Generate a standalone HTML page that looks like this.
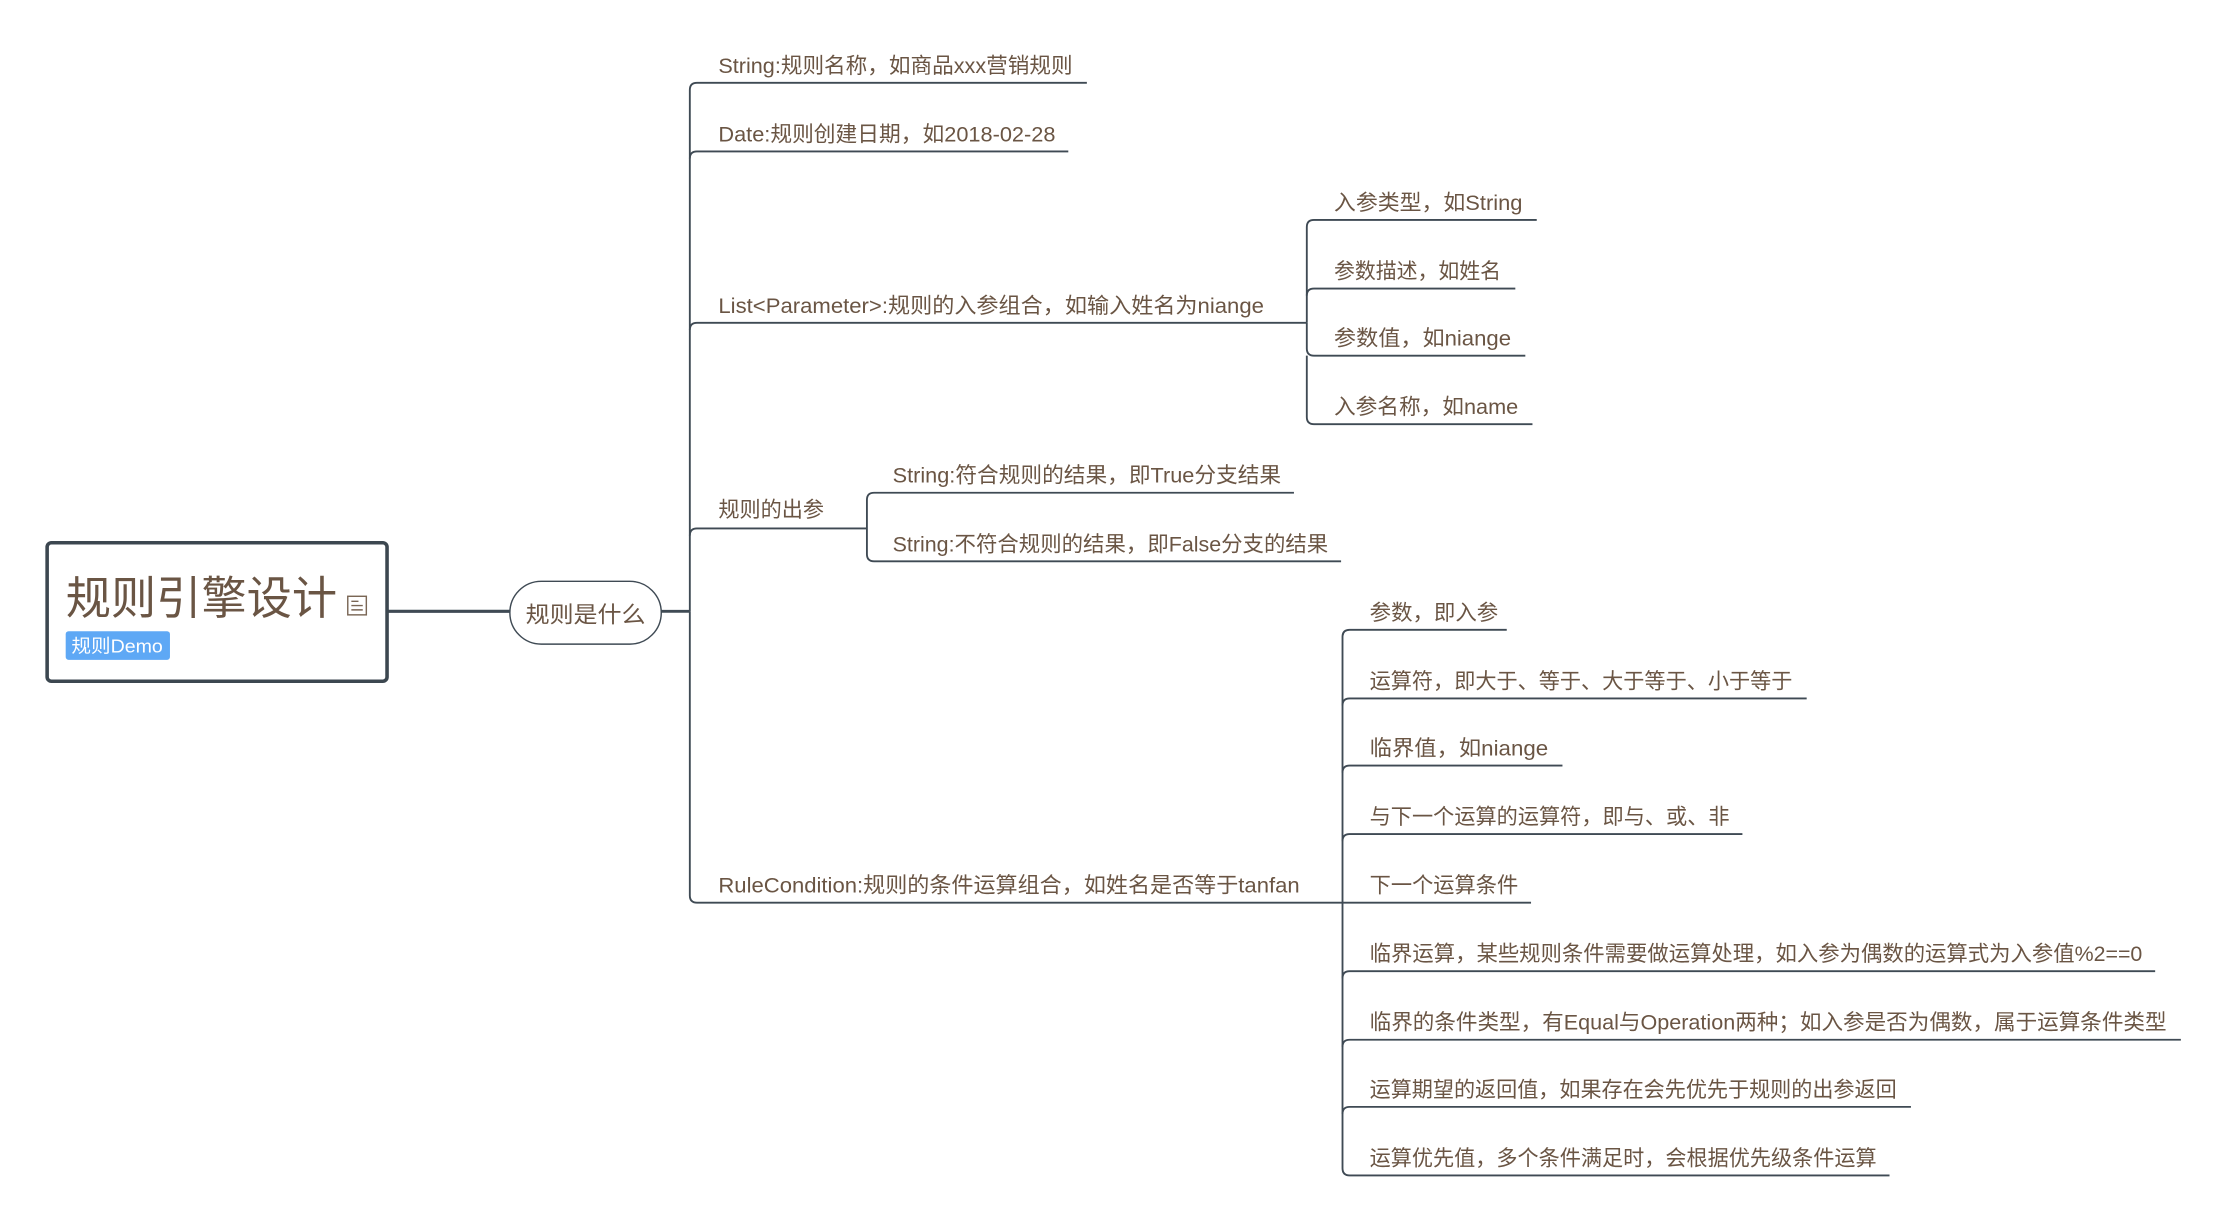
<!DOCTYPE html>
<html><head><meta charset="utf-8"><style>
html,body{margin:0;padding:0;background:#fff;}
svg{display:block;}
text{font-family:"Liberation Sans","Noto Sans CJK SC",sans-serif;fill:#6a5544;}
.t{font-size:15px;}
</style></head><body>
<svg width="2228" height="1224" viewBox="0 0 1560 857" xmlns="http://www.w3.org/2000/svg">
<g fill="none" stroke="#3f4a54" stroke-width="1.3">
<!-- root connectors -->
<path d="M271,428 H357" stroke-width="2.2"/>
<path d="M463,428 H483" stroke-width="2"/>
<!-- trunk -->
<path d="M483,428 V63 Q483,58 488,58 H761"/>
<path d="M483,111 Q483,106 488,106 H748"/>
<path d="M483,231 Q483,226 488,226 H915"/>
<path d="M483,375 Q483,370 488,370 H607"/>
<path d="M483,428 V627 Q483,632 488,632 H940"/>
<!-- List sub -->
<path d="M915,226 V159 Q915,154 920,154 H1076"/>
<path d="M915,207 Q915,202 920,202 H1061"/>
<path d="M915,226 V244 Q915,249 920,249 H1068"/>
<path d="M915,249 V292 Q915,297 920,297 H1073"/>
<!-- out sub -->
<path d="M607,370 V350 Q607,345 612,345 H906"/>
<path d="M607,370 V388 Q607,393 612,393 H939"/>
<!-- cond sub -->
<path d="M940,632 V446 Q940,441 945,441 H1055"/>
<path d="M940,494 Q940,489 945,489 H1265"/>
<path d="M940,541 Q940,536 945,536 H1094"/>
<path d="M940,589 Q940,584 945,584 H1220"/>
<path d="M940,632 H1072"/>
<path d="M940,632 V818 Q940,823 945,823 H1323"/>
<path d="M940,685 Q940,680 945,680 H1509"/>
<path d="M940,733 Q940,728 945,728 H1527"/>
<path d="M940,780 Q940,775 945,775 H1338"/>
</g>
<!-- root -->
<rect x="33" y="380" width="238" height="97" rx="3" fill="#fff" stroke="#3c4750" stroke-width="2.5"/>
<text x="46" y="430" style="font-size:32px" textLength="190" lengthAdjust="spacingAndGlyphs">规则引擎设计</text>
<g fill="none" stroke="#7a6655" stroke-width="1"><rect x="243.5" y="417.5" width="13" height="13"/><path d="M246,421H251M246,424H254M246,427H254"/></g>
<rect x="46" y="442" width="73" height="20" rx="2" fill="#5ea8f5"/>
<text x="50" y="457" style="font-size:13px;fill:#fff" textLength="64" lengthAdjust="spacingAndGlyphs">规则Demo</text>
<rect x="357" y="407" width="106" height="44" rx="22" fill="#fff" stroke="#3f4a54" stroke-width="1"/>
<text x="368" y="436" style="font-size:16px" textLength="84" lengthAdjust="spacingAndGlyphs">规则是什么</text>
<g class="t">
<text x="503" y="51" textLength="248" lengthAdjust="spacingAndGlyphs">String:规则名称，如商品xxx营销规则</text>
<text x="503" y="99" textLength="236" lengthAdjust="spacingAndGlyphs">Date:规则创建日期，如2018-02-28</text>
<text x="503" y="219" textLength="382" lengthAdjust="spacingAndGlyphs">List&lt;Parameter&gt;:规则的入参组合，如输入姓名为niange</text>
<text x="503" y="362" textLength="74" lengthAdjust="spacingAndGlyphs">规则的出参</text>
<text x="503" y="625" textLength="407" lengthAdjust="spacingAndGlyphs">RuleCondition:规则的条件运算组合，如姓名是否等于tanfan</text>
<text x="934" y="147" textLength="132" lengthAdjust="spacingAndGlyphs">入参类型，如String</text>
<text x="934" y="195" textLength="117" lengthAdjust="spacingAndGlyphs">参数描述，如姓名</text>
<text x="934" y="242" textLength="124" lengthAdjust="spacingAndGlyphs">参数值，如niange</text>
<text x="934" y="290" textLength="129" lengthAdjust="spacingAndGlyphs">入参名称，如name</text>
<text x="625" y="338" textLength="272" lengthAdjust="spacingAndGlyphs">String:符合规则的结果，即True分支结果</text>
<text x="625" y="386" textLength="305" lengthAdjust="spacingAndGlyphs">String:不符合规则的结果，即False分支的结果</text>
<text x="959" y="434" textLength="90" lengthAdjust="spacingAndGlyphs">参数，即入参</text>
<text x="959" y="482" textLength="296" lengthAdjust="spacingAndGlyphs">运算符，即大于、等于、大于等于、小于等于</text>
<text x="959" y="529" textLength="125" lengthAdjust="spacingAndGlyphs">临界值，如niange</text>
<text x="959" y="577" textLength="252" lengthAdjust="spacingAndGlyphs">与下一个运算的运算符，即与、或、非</text>
<text x="959" y="625" textLength="104" lengthAdjust="spacingAndGlyphs">下一个运算条件</text>
<text x="959" y="673" textLength="541" lengthAdjust="spacingAndGlyphs">临界运算，某些规则条件需要做运算处理，如入参为偶数的运算式为入参值%2==0</text>
<text x="959" y="721" textLength="558" lengthAdjust="spacingAndGlyphs">临界的条件类型，有Equal与Operation两种；如入参是否为偶数，属于运算条件类型</text>
<text x="959" y="768" textLength="369" lengthAdjust="spacingAndGlyphs">运算期望的返回值，如果存在会先优先于规则的出参返回</text>
<text x="959" y="816" textLength="355" lengthAdjust="spacingAndGlyphs">运算优先值，多个条件满足时，会根据优先级条件运算</text>
</g>
</svg>
</body></html>
